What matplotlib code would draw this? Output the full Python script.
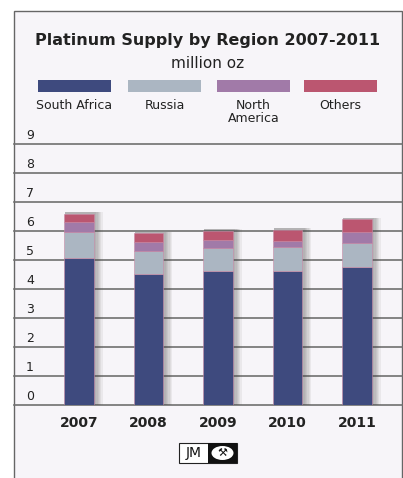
import matplotlib
matplotlib.use("Agg")
import matplotlib.pyplot as plt
from matplotlib.patches import Rectangle, Ellipse

# Data (million oz)
years = ["2007", "2008", "2009", "2010", "2011"]
south_africa = [5.06, 4.50, 4.63, 4.63, 4.77]
russia = [0.91, 0.80, 0.79, 0.82, 0.82]
north_america = [0.33, 0.33, 0.26, 0.20, 0.37]
others = [0.28, 0.28, 0.32, 0.39, 0.43]

series = [
    ("South Africa", south_africa, "#3e4a7e"),
    ("Russia", russia, "#abb6c2"),
    ("North\nAmerica", north_america, "#a17aa8"),
    ("Others", others, "#bb5670"),
]
yticks = list(range(0, 10))

W, H = 403, 478
bg = "#f7f5f9"
fig = plt.figure(figsize=(W / 100, H / 100), dpi=100)
fig.patch.set_facecolor("white")

# outer frame
fig.patches.append(Rectangle((14 / W, -0.05), 388 / W, 1.05 - 11 / H,
                             transform=fig.transFigure, facecolor=bg,
                             edgecolor="#666666", lw=1.0, zorder=-1))

ax = fig.add_axes([14 / W, (H - 405) / H, 388 / W, (405 - 143.7) / H])
ax.set_zorder(1)
ax.set_facecolor("none")
for s in ax.spines.values():
    s.set_visible(False)
ax.set_ylim(0, 9)
ax.set_xlim(-0.935, 4.647)
ax.set_yticks(yticks)
ax.set_xticks([])
ax.tick_params(axis="y", length=0, labelleft=False)
ax.yaxis.grid(True, color="#707070", lw=1.2)
for gl in ax.get_ygridlines():
    gl.set_clip_on(False)
ax.set_axisbelow(True)

for v in yticks:
    ax.annotate(str(v), (12 / 388, v), xycoords=("axes fraction", "data"),
                xytext=(0, 1.5), textcoords="offset points", ha="left",
                va="bottom", fontsize=9, color="#222222")

x = list(range(len(years)))
bw = 0.43
totals = [sum(t) for t in zip(south_africa, russia, north_america, others)]
px = 1 / 69.5  # one pixel in x data units
py = 1 / 29.03  # one pixel in y data units

# soft drop shadow, mostly to the right of each stack
for k in range(1, 7):
    ax.bar([xi - bw / 2 + 1 * px for xi in x],
           [t + 1.5 * py for t in totals], bottom=0,
           width=bw + 1.3 * k * px, align="edge", color="#404040",
           alpha=0.07, lw=0, zorder=2)

bottom = [0.0] * len(years)
for name, vals, col in series:
    ax.bar(x, vals, bottom=bottom, width=bw, color=col,
           edgecolor="#c98aa6", lw=0.4, zorder=3)
    bottom = [b0 + v for b0, v in zip(bottom, vals)]

for xi, yr in zip(x, years):
    ax.annotate(yr, (xi, 0), xycoords="data", xytext=(0, -13),
                textcoords="offset points", ha="center", va="center",
                fontsize=10, fontweight="bold", color="#222222",
                annotation_clip=False)

# title
fig.text(208 / W, 1 - 40 / H, "Platinum Supply by Region 2007-2011",
         ha="center", va="center", fontsize=11.5, fontweight="bold",
         color="#222222")
fig.text(208 / W, 1 - 63 / H, "million oz", ha="center", va="center",
         fontsize=11, color="#222222")

# legend
leg_x = [38, 128, 217, 304]
for lx, (name, vals, col) in zip(leg_x, series):
    fig.patches.append(Rectangle((lx / W, 1 - 92 / H), 73 / W, 12 / H,
                                 transform=fig.transFigure, facecolor=col,
                                 edgecolor="none"))
    fig.text((lx + 36.5) / W, 1 - 99 / H, name, ha="center", va="top",
             fontsize=9, color="#222222", linespacing=0.95)

# JM logo
fig.patches.append(Rectangle((179 / W, 1 - 463 / H), 58 / W, 20 / H,
                             transform=fig.transFigure, facecolor="white",
                             edgecolor="#222222", lw=0.8))
fig.patches.append(Rectangle((208 / W, 1 - 463 / H), 29 / W, 20 / H,
                             transform=fig.transFigure, facecolor="#111111",
                             edgecolor="none"))
fig.patches.append(Ellipse((222.5 / W, 1 - 453 / H), 22 / W, 14 / H,
                           transform=fig.transFigure, facecolor="white",
                           edgecolor="none"))
fig.text(193.5 / W, 1 - 453 / H, "JM", ha="center", va="center",
         fontsize=10, color="#111111")
fig.text(222.5 / W, 1 - 453 / H, "\u2692", ha="center", va="center",
         fontsize=8, color="#111111")

fig.savefig("out.png", dpi=100, facecolor="white")
